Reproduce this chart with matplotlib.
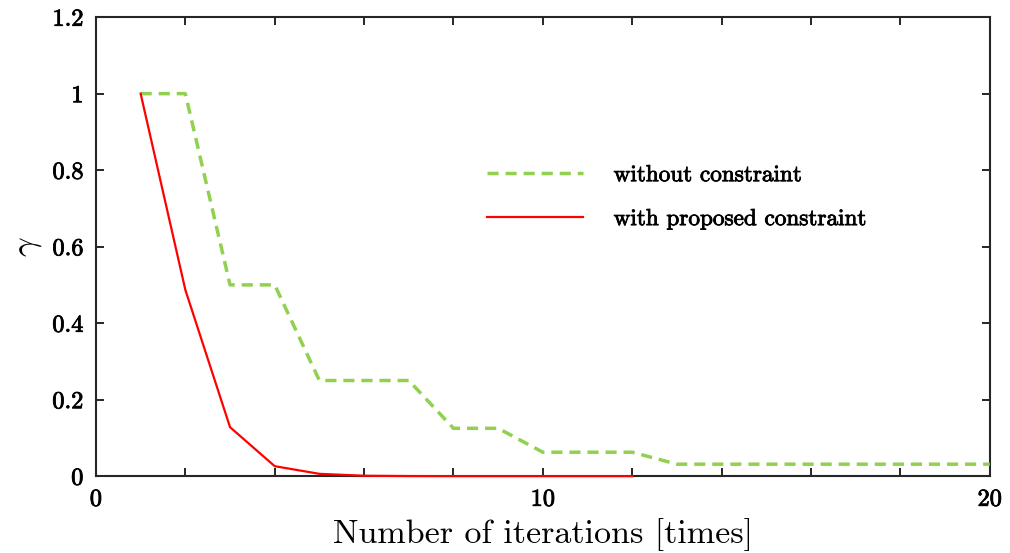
import matplotlib
matplotlib.use("Agg")
import matplotlib.pyplot as plt
import matplotlib.patheffects as pe
from matplotlib.ticker import MultipleLocator, FixedLocator

plt.rcParams["font.family"] = ["cmr10", "DejaVu Serif"]
plt.rcParams["mathtext.fontset"] = "cm"
plt.rcParams["axes.formatter.use_mathtext"] = True

# gamma per iteration
iters_plain = [1, 2, 3, 4, 5, 6, 7, 8, 9, 10, 11, 12, 13, 14, 15, 16, 17, 18, 19, 20]
gamma_plain = [1, 1, 0.5, 0.5, 0.25, 0.25, 0.25, 0.125, 0.125, 0.0625, 0.0625, 0.0625,
               0.03125, 0.03125, 0.03125, 0.03125, 0.03125, 0.03125, 0.03125, 0.03125]
iters_prop = [1, 2, 3, 4, 5, 6, 7, 8, 9, 10, 11, 12]
gamma_prop = [1, 0.487, 0.128, 0.026, 0.006, 0.001, 0.0002, 0, 0, 0, 0, 0]

x_labels = ["0", "10", "20"]
y_labels = ["0", "0.2", "0.4", "0.6", "0.8", "1", "1.2"]

heavy = [pe.withStroke(linewidth=0.6, foreground="black")]

fig = plt.figure(figsize=(10.1, 5.53), dpi=100)
ax = fig.add_axes([0.095, 0.139, 0.885, 0.830])

ax.plot(iters_plain, gamma_plain, color="#92d050", lw=2.5, dashes=(3.2, 2.0),
        label="without constraint", zorder=3, clip_on=False)
ax.plot(iters_prop, gamma_prop, color="#ff0000", lw=1.6,
        label="with proposed constraint", zorder=3, clip_on=False)

ax.set_xlim(0, 20)
ax.set_ylim(0, 1.2)
ax.xaxis.set_major_locator(FixedLocator([0, 10, 20]))
ax.set_xticklabels(x_labels)
ax.xaxis.set_minor_locator(MultipleLocator(2))
ax.yaxis.set_major_locator(FixedLocator([0, 0.2, 0.4, 0.6, 0.8, 1.0, 1.2]))
ax.set_yticklabels(y_labels)

ax.tick_params(which="both", direction="in", top=True, right=True,
               length=6, width=1.4, color="#262626", labelsize=17.5, pad=9)
for lbl in ax.get_xticklabels() + ax.get_yticklabels():
    lbl.set_path_effects(heavy)
for s in ax.spines.values():
    s.set_linewidth(1.5)
    s.set_color("#262626")

ax.set_xlabel("Number of iterations [times]", fontsize=24.5, labelpad=5)
ax.set_ylabel(r"$\gamma$", fontsize=25, labelpad=6)

leg = ax.legend(loc="upper left", bbox_to_anchor=(0.437, 0.68), frameon=False,
                fontsize=16.7, handlelength=4.14, handletextpad=1.34,
                labelspacing=0.94, borderpad=0, borderaxespad=0)
for t in leg.get_texts():
    t.set_path_effects(heavy)

fig.savefig("out.png", dpi=100)
